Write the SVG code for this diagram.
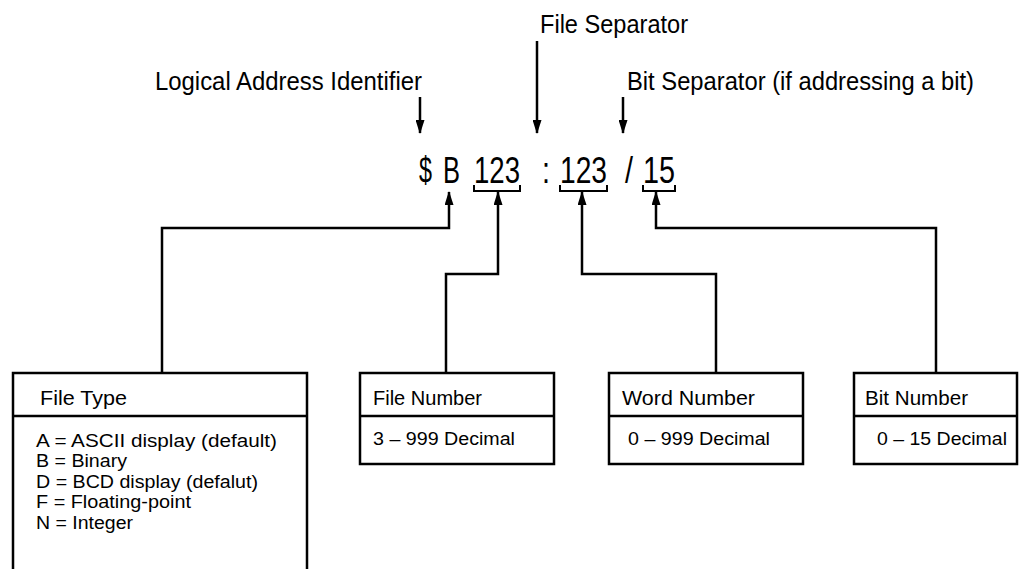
<svg xmlns="http://www.w3.org/2000/svg" width="1019" height="569" viewBox="0 0 1019 569">
<style>
text{font-family:"Liberation Sans",Arial,sans-serif;fill:#000}
.lbl{font-size:25px}
.big{font-size:36px}
.hdr{font-size:21px}
.itm{font-size:17.5px}
.ln{fill:none;stroke:#000;stroke-width:2.5}
.br{fill:none;stroke:#000;stroke-width:2}
.box{fill:#fff;stroke:#000;stroke-width:2.5}
</style>
<defs>
<marker id="ah" viewBox="0 0 14 9" refX="13" refY="4.5" markerWidth="14" markerHeight="9" markerUnits="userSpaceOnUse" orient="auto">
<path d="M0,0 L14,4.5 L0,9 Z" fill="#000"/>
</marker>
</defs>
<rect width="1019" height="569" fill="#fff"/>
<g id="labels">
<text class="lbl" x="540" y="33" textLength="148" lengthAdjust="spacingAndGlyphs">File Separator</text>
<text class="lbl" x="155" y="90" textLength="267" lengthAdjust="spacingAndGlyphs">Logical Address Identifier</text>
<text class="lbl" x="627" y="90" textLength="347" lengthAdjust="spacingAndGlyphs">Bit Separator (if addressing a bit)</text>
</g>
<g id="address">
<text class="big" x="419" y="183" textLength="13" lengthAdjust="spacingAndGlyphs">$</text>
<text class="big" x="443" y="183" textLength="17" lengthAdjust="spacingAndGlyphs">B</text>
<text class="big" x="474" y="183" textLength="46" lengthAdjust="spacingAndGlyphs">123</text>
<text class="big" x="542" y="183" textLength="8" lengthAdjust="spacingAndGlyphs">:</text>
<text class="big" x="560" y="183" textLength="47" lengthAdjust="spacingAndGlyphs">123</text>
<text class="big" x="625" y="183" textLength="8" lengthAdjust="spacingAndGlyphs">/</text>
<text class="big" x="643" y="183" textLength="32" lengthAdjust="spacingAndGlyphs">15</text>
<path class="br" d="M474,185 V191 H520 V185"/>
<path class="br" d="M560,185 V191 H607 V185"/>
<path class="br" d="M643,185 V191 H675 V185"/>
</g>
<g id="connectors">
<path class="ln" d="M420,97 V133" marker-end="url(#ah)"/>
<path class="ln" d="M537,41 V133" marker-end="url(#ah)"/>
<path class="ln" d="M623,97 V133" marker-end="url(#ah)"/>
<path class="ln" d="M162,373 V228 H449 V192" marker-end="url(#ah)"/>
<path class="ln" d="M446,373 V274 H498 V192" marker-end="url(#ah)"/>
<path class="ln" d="M716,373 V274 H582 V192" marker-end="url(#ah)"/>
<path class="ln" d="M936,373 V228 H656 V192" marker-end="url(#ah)"/>
</g>
<g id="file-type">
<path class="box" d="M13,572 V373 H307 V572"/>
<path class="ln" d="M13,416 H307"/>
<text class="hdr" x="40" y="405" textLength="87" lengthAdjust="spacingAndGlyphs">File Type</text>
<text class="itm" x="36" y="447" textLength="241" lengthAdjust="spacingAndGlyphs">A = ASCII display (default)</text>
<text class="itm" x="36" y="467" textLength="91" lengthAdjust="spacingAndGlyphs">B = Binary</text>
<text class="itm" x="36" y="488" textLength="222" lengthAdjust="spacingAndGlyphs">D = BCD display (defalut)</text>
<text class="itm" x="36" y="508" textLength="155" lengthAdjust="spacingAndGlyphs">F = Floating-point</text>
<text class="itm" x="36" y="529" textLength="97" lengthAdjust="spacingAndGlyphs">N = Integer</text>
</g>
<g id="file-number">
<rect class="box" x="360" y="373" width="194" height="91"/>
<path class="ln" d="M360,416 H554"/>
<text class="hdr" x="373" y="405" textLength="109" lengthAdjust="spacingAndGlyphs">File Number</text>
<text class="itm" x="373" y="445" textLength="142" lengthAdjust="spacingAndGlyphs">3 – 999 Decimal</text>
</g>
<g id="word-number">
<rect class="box" x="609" y="373" width="194" height="91"/>
<path class="ln" d="M609,416 H803"/>
<text class="hdr" x="622" y="405" textLength="133" lengthAdjust="spacingAndGlyphs">Word Number</text>
<text class="itm" x="628" y="445" textLength="142" lengthAdjust="spacingAndGlyphs">0 – 999 Decimal</text>
</g>
<g id="bit-number">
<rect class="box" x="854" y="373" width="163" height="91"/>
<path class="ln" d="M854,416 H1017"/>
<text class="hdr" x="865" y="405" textLength="103" lengthAdjust="spacingAndGlyphs">Bit Number</text>
<text class="itm" x="877" y="445" textLength="130" lengthAdjust="spacingAndGlyphs">0 – 15 Decimal</text>
</g>
</svg>
